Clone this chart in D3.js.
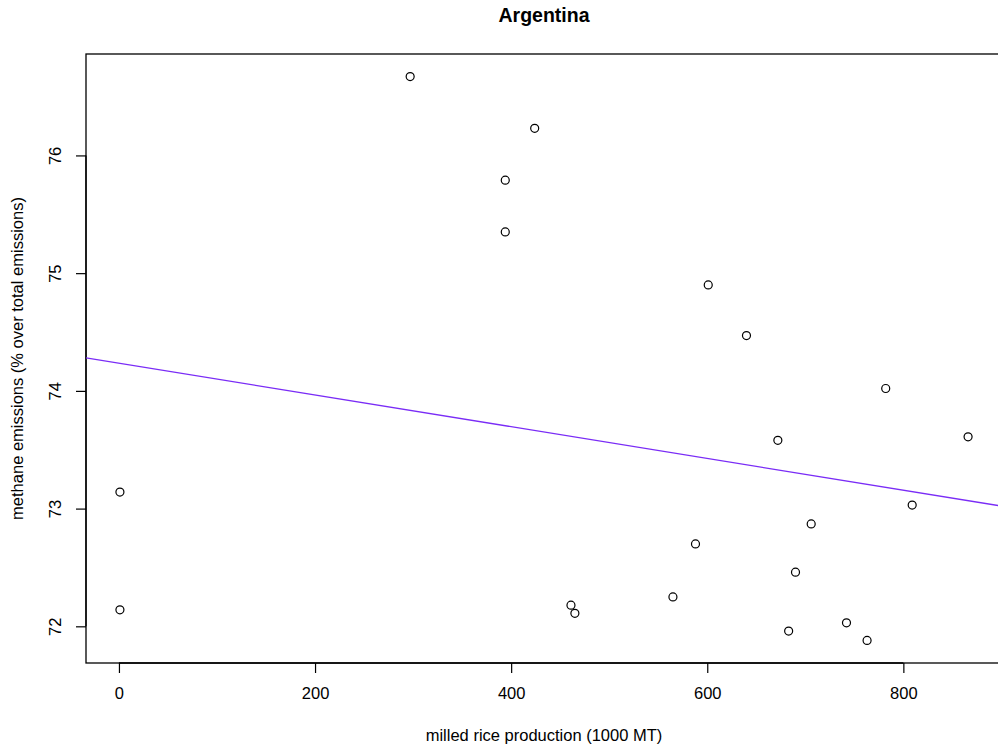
<!DOCTYPE html>
<html>
<head>
<meta charset="utf-8">
<script src="https://cdn.jsdelivr.net/npm/d3@7"></script>
<style>
  html, body { margin: 0; padding: 0; background: #fff; }
  svg { display: block; font-family: "Liberation Sans", Arial, sans-serif; }
</style>
</head>
<body>
<script>
// milled rice production (1000 MT) vs methane emissions (% of total), Argentina
const production = [1, 1, 297, 424, 394, 394, 601, 640, 782, 672, 866,
  809, 706, 588, 690, 565, 461, 465, 683, 742, 763];
const methane = [73.14, 72.14, 76.67, 76.23, 75.79, 75.35, 74.90, 74.47, 74.02, 73.58, 73.61,
  73.03, 72.87, 72.70, 72.46, 72.25, 72.18, 72.11, 71.96, 72.03, 71.88];
const xTicks = [0, 200, 400, 600, 800];
const yTicks = [72, 73, 74, 75, 76];

const width = 998;
const height = 749;
const margin = { top: 54, right: -4, bottom: 86, left: 86 };

const points = production.map((x, i) => ({ x: x, y: methane[i] }));

// R style axis range: data range padded by 4% each side
const pad = (ext) => {
  const d = (ext[1] - ext[0]) * 0.04;
  return [ext[0] - d, ext[1] + d];
};

const x = d3.scaleLinear()
    .domain(pad(d3.extent(production)))
    .range([margin.left, width - margin.right]);

const y = d3.scaleLinear()
    .domain(pad(d3.extent(methane)))
    .range([height - margin.bottom, margin.top]);

// least squares fit, like abline(lm(y ~ x))
const mx = d3.mean(production);
const my = d3.mean(methane);
const slope = d3.sum(points, (d) => (d.x - mx) * (d.y - my)) /
    d3.sum(points, (d) => (d.x - mx) * (d.x - mx));
const intercept = my - slope * mx;

const svg = d3.select("body")
    .append("svg")
    .attr("width", width)
    .attr("height", height)
    .attr("viewBox", [0, 0, width, height].join(" "));

svg.append("defs")
    .append("clipPath")
    .attr("id", "plot-clip")
    .append("rect")
    .attr("x", x.range()[0])
    .attr("y", y.range()[1])
    .attr("width", x.range()[1] - x.range()[0])
    .attr("height", y.range()[0] - y.range()[1]);

// title
svg.append("text")
    .attr("x", (x.range()[0] + x.range()[1]) / 2)
    .attr("y", 22)
    .attr("text-anchor", "middle")
    .attr("font-size", 19.5)
    .attr("font-weight", "bold")
    .text("Argentina");

// box
svg.append("rect")
    .attr("x", x.range()[0])
    .attr("y", y.range()[1])
    .attr("width", x.range()[1] - x.range()[0])
    .attr("height", y.range()[0] - y.range()[1])
    .attr("fill", "none")
    .attr("stroke", "#000")
    .attr("stroke-width", 1.3);

// x axis
const xAxis = svg.append("g")
    .attr("transform", `translate(0, ${y.range()[0]})`)
    .call(d3.axisBottom(x).tickValues(xTicks).tickSize(10).tickSizeOuter(0).tickFormat(d3.format("d")));

xAxis.select(".domain")
    .attr("d", `M${x(xTicks[0])},0H${x(xTicks[xTicks.length - 1])}`)
    .attr("stroke-width", 1.3);

xAxis.selectAll(".tick line").attr("stroke-width", 1.2);

xAxis.selectAll(".tick text")
    .attr("y", 36)
    .attr("dy", null)
    .attr("font-size", 16.5)
    .attr("font-family", null)
    .attr("fill", "#000");

// y axis, labels parallel to the axis
const yAxis = svg.append("g")
    .attr("transform", `translate(${x.range()[0]}, 0)`)
    .call(d3.axisLeft(y).tickValues(yTicks).tickSize(10).tickSizeOuter(0).tickFormat(d3.format("d")));

yAxis.select(".domain")
    .attr("d", `M0,${y(yTicks[0])}V${y(yTicks[yTicks.length - 1])}`)
    .attr("stroke-width", 1.3);

yAxis.selectAll(".tick line").attr("stroke-width", 1.2);

yAxis.selectAll(".tick text")
    .attr("x", null)
    .attr("dy", null)
    .attr("transform", "translate(-25, 0) rotate(-90)")
    .attr("text-anchor", "middle")
    .attr("font-size", 16.5)
    .attr("font-family", null)
    .attr("fill", "#000");

svg.selectAll(".domain, .tick line").attr("stroke", "#000");

// axis titles
svg.append("text")
    .attr("x", (x.range()[0] + x.range()[1]) / 2)
    .attr("y", 741)
    .attr("text-anchor", "middle")
    .attr("font-size", 16.5)
    .text("milled rice production (1000 MT)");

svg.append("text")
    .attr("transform", `translate(23, ${(y.range()[0] + y.range()[1]) / 2}) rotate(-90)`)
    .attr("text-anchor", "middle")
    .attr("font-size", 16.5)
    .text("methane emissions (% over total emissions)");

// regression line
const xd = x.domain();
svg.append("line")
    .attr("clip-path", "url(#plot-clip)")
    .attr("x1", x(xd[0]))
    .attr("y1", y(intercept + slope * xd[0]))
    .attr("x2", x(xd[1]))
    .attr("y2", y(intercept + slope * xd[1]))
    .attr("stroke", "#7a2cf6")
    .attr("stroke-width", 1.3);

// points
svg.append("g")
    .selectAll("circle")
    .data(points)
    .join("circle")
    .attr("cx", (d) => x(d.x))
    .attr("cy", (d) => y(d.y))
    .attr("r", 4)
    .attr("fill", "none")
    .attr("stroke", "#000")
    .attr("stroke-width", 1.2);
</script>
</body>
</html>
